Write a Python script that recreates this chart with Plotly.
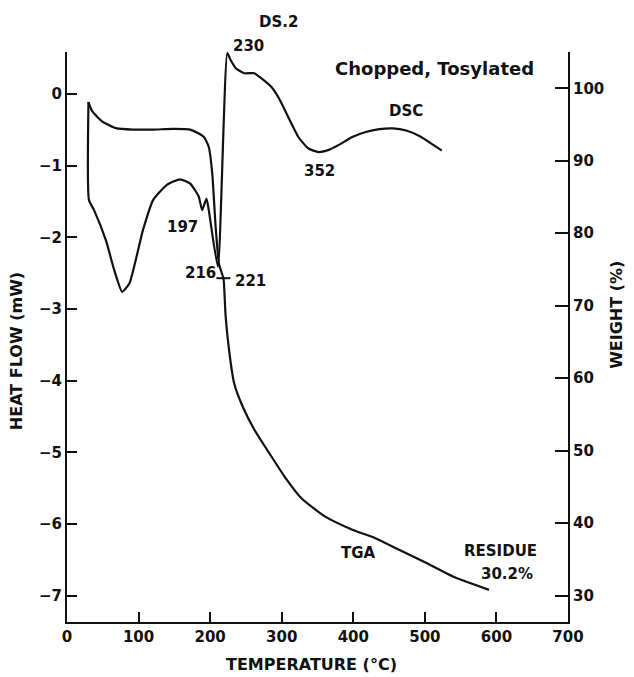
import plotly.graph_objects as go

# ---- data ----
dsc_temp = [30, 30.7, 37.8, 54.3, 66.1, 77, 87.3, 106.1, 120.3, 139.2, 158, 172.2, 184, 188.8,
            194.9, 198.1, 210.8, 224, 228.8, 235.9, 247.6, 261.8, 271.3, 285.4, 297.2, 309,
            323.2, 337.3, 351.5, 365.6, 379.8, 398.6, 417.4, 436.4, 455.2, 474, 493, 511.8, 523.6]
dsc_heat_flow = [-0.11, -1.48, -1.62, -2.04, -2.46, -2.76, -2.64, -1.90, -1.48, -1.27, -1.19, -1.25,
                 -1.43, -1.62, -1.46, -1.62, -2.41, 0.57, 0.47, 0.36, 0.29, 0.29, 0.22, 0.10, -0.08,
                 -0.32, -0.60, -0.76, -0.81, -0.78, -0.71, -0.60, -0.53, -0.49, -0.48, -0.51, -0.59,
                 -0.71, -0.79]

tga_temp = [30, 35.4, 49.5, 68.5, 92, 120.3, 148.6, 172.2, 191, 198.1, 202.9, 207.6, 212.3, 218.5,
            219.3, 221.7, 226.4, 233.5, 245.4, 261.8, 283, 304.2, 327.9, 360.8, 398.6, 431.6,
            464.7, 502.3, 540, 589.6]
tga_weight = [98.1, 96.8, 95.4, 94.5, 94.3, 94.3, 94.4, 94.3, 93.3, 91.9, 88.3, 81.0, 75.8, 73.8,
              73.1, 68.5, 63.9, 59.3, 56.1, 52.9, 49.6, 46.4, 43.4, 40.9, 39.1, 37.9, 36.3, 34.5,
              32.6, 30.8]

marked_temp = [218.5]
marked_weight = [73.8]

x_ticks = [0, 100, 200, 300, 400, 500, 600, 700]
heat_ticks = [0, -1, -2, -3, -4, -5, -6, -7]
weight_ticks = [30, 40, 50, 60, 70, 80, 90, 100]

# in-plot labels (temperature, heat-flow position)
label_texts = ["Chopped, Tosylated", "DSC", "352", "197", "216", "221",
               "TGA", "RESIDUE", "30.2%"]
label_temps = [513, 474, 353, 162, 186, 257, 407, 605, 615]
label_heat = [0.36, -0.24, -1.08, -1.86, -2.50, -2.61, -6.40, -6.38, -6.70]

# labels above the plotting area (temperature, paper height)
top_texts = ["DS.2", "230"]
top_temps = [295, 254]
top_paper_y = [1.053, 1.011]

FONT = "DejaVu Sans"
ink = "#111111"

fig = go.Figure()
fig.add_trace(go.Scatter(x=dsc_temp, y=dsc_heat_flow, mode="lines",
                         line=dict(color=ink, width=2.2, shape="spline", smoothing=0.5),
                         showlegend=False, hoverinfo="skip"))
fig.add_trace(go.Scatter(x=tga_temp, y=tga_weight, mode="lines", yaxis="y2",
                         line=dict(color=ink, width=2.2, shape="spline", smoothing=0.5),
                         showlegend=False, hoverinfo="skip"))
fig.add_trace(go.Scatter(x=marked_temp, y=marked_weight, mode="markers", yaxis="y2",
                         marker=dict(symbol="line-ew", size=10, line=dict(color=ink, width=2)),
                         showlegend=False, hoverinfo="skip"))

lab_font = dict(family=FONT, size=15, color=ink, weight="bold")
anch = dict(xanchor="center", yanchor="middle", showarrow=False)
for t, xx, yy in zip(label_texts, label_temps, label_heat):
    f = dict(lab_font)
    if t == "Chopped, Tosylated":
        f["size"] = 18
    fig.add_annotation(x=xx, y=yy, xref="x", yref="y", text=t, font=f, **anch)
for t, xx, yy in zip(top_texts, top_temps, top_paper_y):
    fig.add_annotation(x=xx, y=yy, xref="x", yref="paper", text=t, font=lab_font, **anch)

# axis titles
fig.add_annotation(x=-0.102, y=0.475, xref="paper", yref="paper", text="HEAT FLOW (mW)",
                   textangle=-90, font=dict(lab_font, size=16), **anch)
fig.add_annotation(x=1.098, y=0.539, xref="paper", yref="paper", text="WEIGHT (%)",
                   textangle=-90, font=dict(lab_font, size=16), **anch)
fig.add_annotation(x=0.489, y=-0.074, xref="paper", yref="paper", text="TEMPERATURE (°C)",
                   font=dict(lab_font, size=16), **anch)

axis_common = dict(showline=True, linecolor=ink, linewidth=2, ticks="inside", tickcolor=ink,
                   tickwidth=2, showgrid=False, zeroline=False, automargin=False,
                   tickfont=dict(family=FONT, size=15, color=ink, weight="bold"))

# page body adds an 8px offset, so the figure is sized to fit the remaining window
fig.update_layout(
    width=626, height=669,
    margin=dict(l=59, r=66, t=44, b=55),
    paper_bgcolor="white", plot_bgcolor="white",
    xaxis=dict(range=[0, 700], tickvals=x_ticks, ticklen=10, **axis_common),
    yaxis=dict(range=[-7.367, 0.586], tickvals=heat_ticks, ticklen=10, **axis_common),
    yaxis2=dict(range=[26.37, 105.0], tickvals=weight_ticks, ticklen=13, overlaying="y",
                side="right", **axis_common),
)

fig.write_html("out.html")
